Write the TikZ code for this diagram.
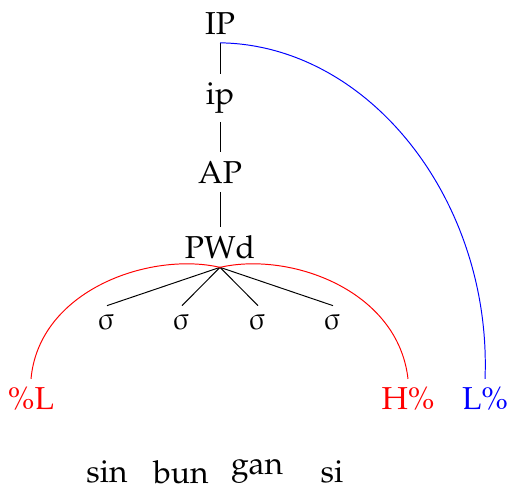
\documentclass[tikz,border=0pt]{standalone}
\usepackage[OT1]{fontenc}
\usepackage{pxfonts}
\usepackage{tikz}
\usetikzlibrary{positioning}

\begin{document}
\begin{tikzpicture}[
  x=0.41pt,y=-0.41pt,
  font=\fontsize{13}{15}\selectfont,
  lvl/.style={inner sep=.3333em},
  syl/.style={inner sep=.3333em},
  bnd/.style={inner sep=.3333em},
  tree/.style={black,line width=0.4pt},
  phr/.style={red,line width=0.4pt},
  utt/.style={blue,line width=0.4pt}
]
  \useasboundingbox (0,0) rectangle (508,490);
  % Prosodic hierarchy
  \node[lvl] (IP)  at (220,23)  {IP};
  \node[lvl] (ip)  at (220,98)  {ip};
  \node[lvl] (AP)  at (220,172) {AP};
  \node[lvl] (PWd) at (220,247) {PWd};
  % Syllables
  \node[syl] (s1) at (107,322) {$\sigmaup$};
  \node[syl] (s2) at (182,322) {$\sigmaup$};
  \node[syl] (s3) at (258,322) {$\sigmaup$};
  \node[syl] (s4) at (333,322) {$\sigmaup$};
  % Boundary tones
  \node[bnd,text=red]  (bL)  at (31,399)  {\%L};
  \node[bnd,text=red]  (bH)  at (408,399) {H\%};
  \node[bnd,text=blue] (bLb) at (485,399) {L\%};
  % Segmental string
  \node (w1) at (107,472) {sin};
  \node (w2) at (181,472) {bun};
  \node (w3) at (257,472) {gan};
  \node (w4) at (332,472) {si};
  % Tree lines
  \draw[tree] (IP.south) -- (ip.north);
  \draw[tree] (ip.south) -- (AP.north);
  \draw[tree] (AP.south) -- (PWd.north);
  \draw[tree] (PWd.south) -- (s1.north);
  \draw[tree] (PWd.south) -- (s2.north);
  \draw[tree] (PWd.south) -- (s3.north);
  \draw[tree] (PWd.south) -- (s4.north);
  % Tone associations
  \draw[phr] (PWd.south) .. controls +(-70,-16) and +(8,-89) .. (bL.north);
  \draw[phr] (PWd.south) .. controls +(70,-16) and +(-10,-89) .. (bH.north);
  \draw[utt] (IP.south) .. controls +(150,2) and +(7,-177) .. (bLb.north);
\end{tikzpicture}
\end{document}
